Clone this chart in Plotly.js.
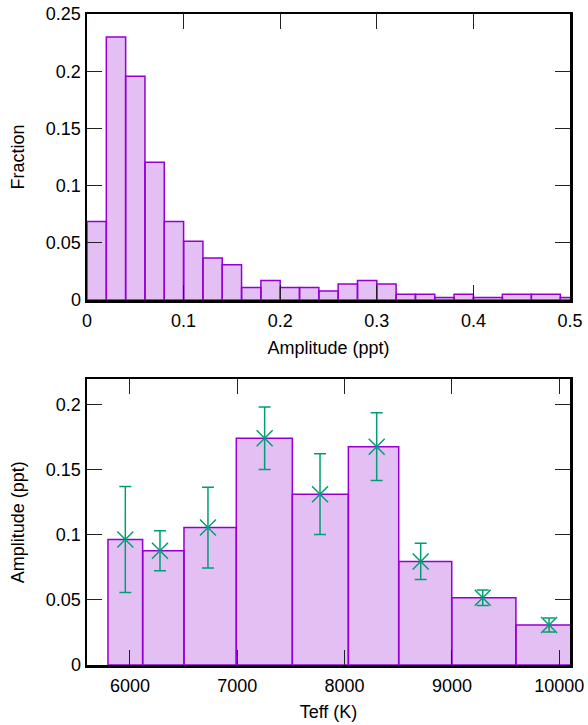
<!DOCTYPE html>
<html>
<head>
<meta charset="utf-8">
<script src="https://cdn.plot.ly/plotly-3.0.1.min.js"></script>
<style>html,body{margin:0;padding:0;background:#fff;}#chart{width:588px;height:725px;}</style>
</head>
<body>
<div id="chart"></div>
<script>
// Top panel: histogram of amplitudes (bin centres as plotted, fraction per bin)
const ampBinCentres = [0.01, 0.03, 0.05, 0.07, 0.09, 0.11, 0.13, 0.15, 0.17, 0.19,
                       0.21, 0.23, 0.25, 0.27, 0.29, 0.31, 0.33, 0.35, 0.37, 0.39,
                       0.41, 0.45, 0.47, 0.51];
const fraction = [0.0687, 0.2298, 0.1955, 0.1204, 0.0687, 0.0515, 0.0369, 0.0308, 0.0110, 0.0171,
                  0.0110, 0.0110, 0.0079, 0.0140, 0.0171, 0.0140, 0.0052, 0.0052, 0.0023, 0.0052,
                  0.0023, 0.0052, 0.0052, 0.0023];

// Bottom panel: mean amplitude per Teff bin with uncertainties
const teff = [5957, 6280, 6727, 7255, 7771, 8299, 8709, 9287, 9905];
const meanAmp = [0.0963, 0.0877, 0.1055, 0.1741, 0.1311, 0.1676, 0.0795, 0.0516, 0.0307];
const ampErr = [0.0407, 0.0154, 0.0310, 0.0240, 0.0310, 0.0260, 0.0139, 0.0060, 0.0054];

// gnuplot-style automatic box widths: each box reaches halfway to its neighbours
function autoWidths(c) {
  const n = c.length, w = [];
  for (let i = 0; i < n; i++) {
    const left = i > 0 ? (c[i] - c[i-1]) / 2 : (c[i+1] - c[i]) / 2;
    const right = i < n - 1 ? (c[i+1] - c[i]) / 2 : (c[i] - c[i-1]) / 2;
    w.push({left, right});
  }
  return w;
}
function boxes(c) {
  const w = autoWidths(c);
  return {
    x: c.map((v, i) => v + (w[i].right - w[i].left) / 2),
    width: w.map(o => o.left + o.right)
  };
}

const purple = '#9400d3';
const fill = 'rgba(148,0,211,0.25)';
const green = '#009e73';
const font = {family: 'Liberation Sans, Arial, Helvetica, sans-serif', size: 18, color: '#000'};

const topBoxes = boxes(ampBinCentres);
const botBoxes = boxes(teff);

const traces = [
  {
    type: 'bar', x: topBoxes.x, y: fraction, width: topBoxes.width,
    xaxis: 'x', yaxis: 'y',
    marker: {color: fill, line: {color: purple, width: 1.5}},
    hoverinfo: 'x+y', showlegend: false
  },
  {
    type: 'bar', x: botBoxes.x, y: meanAmp, width: botBoxes.width,
    xaxis: 'x2', yaxis: 'y2',
    marker: {color: fill, line: {color: purple, width: 1.5}},
    showlegend: false
  },
  {
    type: 'scatter', mode: 'markers', x: teff, y: meanAmp,
    xaxis: 'x2', yaxis: 'y2',
    marker: {symbol: 'x-thin-open', size: 16, color: green, line: {color: green, width: 1.5}},
    error_y: {type: 'data', array: ampErr, visible: true, color: green, thickness: 1.5, width: 6},
    showlegend: false
  }
];

const axisCommon = {
  showline: true, linecolor: '#000', linewidth: 2.5, mirror: 'allticks',
  ticks: 'inside', ticklen: 15, tickwidth: 1, tickcolor: '#222',
  showgrid: false, zeroline: false, tickfont: font
};

const layout = {
  width: 588, height: 725,
  margin: {l: 87, r: 18, t: 14, b: 60},
  paper_bgcolor: '#fff', plot_bgcolor: '#fff',
  font: font, showlegend: false, bargap: 0,
  xaxis: Object.assign({}, axisCommon, {
    domain: [0, 1], anchor: 'y', range: [0, 0.5], dtick: 0.1, tick0: 0,
    ticklabelstandoff: 3,
    title: {text: 'Amplitude (ppt)', font: font, standoff: 11}
  }),
  yaxis: Object.assign({}, axisCommon, {
    domain: [0.5605, 1], anchor: 'x', range: [0, 0.25], dtick: 0.05, tick0: 0,
    title: {text: 'Fraction', font: font, standoff: 17}
  }),
  xaxis2: Object.assign({}, axisCommon, {
    domain: [0, 1], anchor: 'y2', range: [5600, 10100], dtick: 1000, tick0: 0, tickformat: 'd',
    ticklabelstandoff: 3,
    title: {text: 'Teff (K)', font: font, standoff: 11}
  }),
  yaxis2: Object.assign({}, axisCommon, {
    domain: [0, 0.4388], anchor: 'x2', range: [0, 0.2193], dtick: 0.05, tick0: 0,
    title: {text: 'Amplitude (ppt)', font: font, standoff: 17}
  })
};

Plotly.newPlot('chart', traces, layout, {displayModeBar: false, staticPlot: true});
</script>
</body>
</html>
